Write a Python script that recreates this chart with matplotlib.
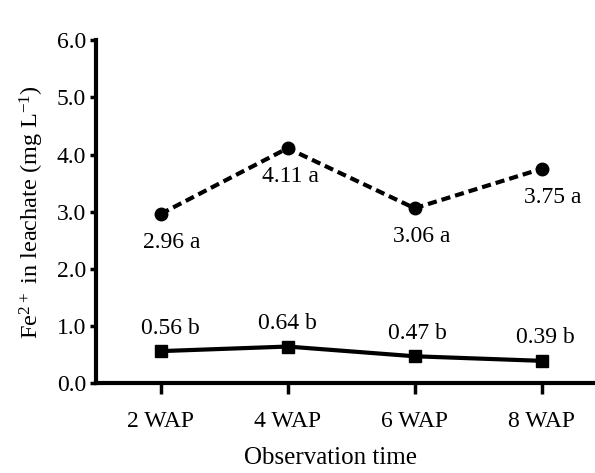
import matplotlib.pyplot as plt

plt.rcParams['font.family'] = ['Liberation Serif', 'DejaVu Serif']
plt.rcParams['mathtext.fontset'] = 'custom'
plt.rcParams['mathtext.rm'] = 'Liberation Serif'
plt.rcParams['mathtext.default'] = 'rm'

times = ["2 WAP", "4 WAP", "6 WAP", "8 WAP"]
fe_upper = [2.96, 4.11, 3.06, 3.75]
fe_lower = [0.56, 0.64, 0.47, 0.39]
lab_upper = ["2.96 a", "4.11 a", "3.06 a", "3.75 a"]
lab_lower = ["0.56 b", "0.64 b", "0.47 b", "0.39 b"]

# small horizontal nudges of the value labels (points)
nudge_upper = [8, 2, 5, 8]
nudge_lower = [7, 0, 2, 3]

fig = plt.figure(figsize=(5.95, 4.73), dpi=100)
ax = fig.add_axes([0.161, 0.19, 0.839, 0.725])

x = range(len(times))
ax.plot(x, fe_upper, color="black", lw=3, ls=(0, (2.2, 1.2)), marker="o", ms=9)
ax.plot(x, fe_lower, color="black", lw=3, marker="s", ms=9)

for i in x:
    ax.annotate(lab_upper[i], (i, fe_upper[i]), xytext=(nudge_upper[i], -13), textcoords="offset points",
                ha="center", va="top", fontsize=17)
    ax.annotate(lab_lower[i], (i, fe_lower[i]), xytext=(nudge_lower[i], 9), textcoords="offset points",
                ha="center", va="bottom", fontsize=17)

ax.set_xlim(-0.51, 3.42)
ax.set_ylim(0, 6)
ax.set_xticks(list(x))
ax.set_xticklabels(times)
ax.set_yticks([0, 1, 2, 3, 4, 5, 6])
ax.set_yticklabels(["%.1f" % v for v in [0, 1, 2, 3, 4, 5, 6]])
ax.tick_params(axis="both", labelsize=17, width=2.5, direction="out")
ax.tick_params(axis="y", length=4, pad=3)
ax.tick_params(axis="x", length=8, pad=12)

ax.spines["top"].set_visible(False)
ax.spines["right"].set_visible(False)
ax.spines["left"].set_linewidth(3)
ax.spines["bottom"].set_linewidth(3)

ax.set_xlabel("Observation time", fontsize=18)
ax.xaxis.set_label_coords(0.47, -0.185)
ax.set_ylabel("Fe$^{2+}$ in leachate (mg L$^{-1}$)", fontsize=17.5, labelpad=8)

fig.savefig("out.png", dpi=100)
